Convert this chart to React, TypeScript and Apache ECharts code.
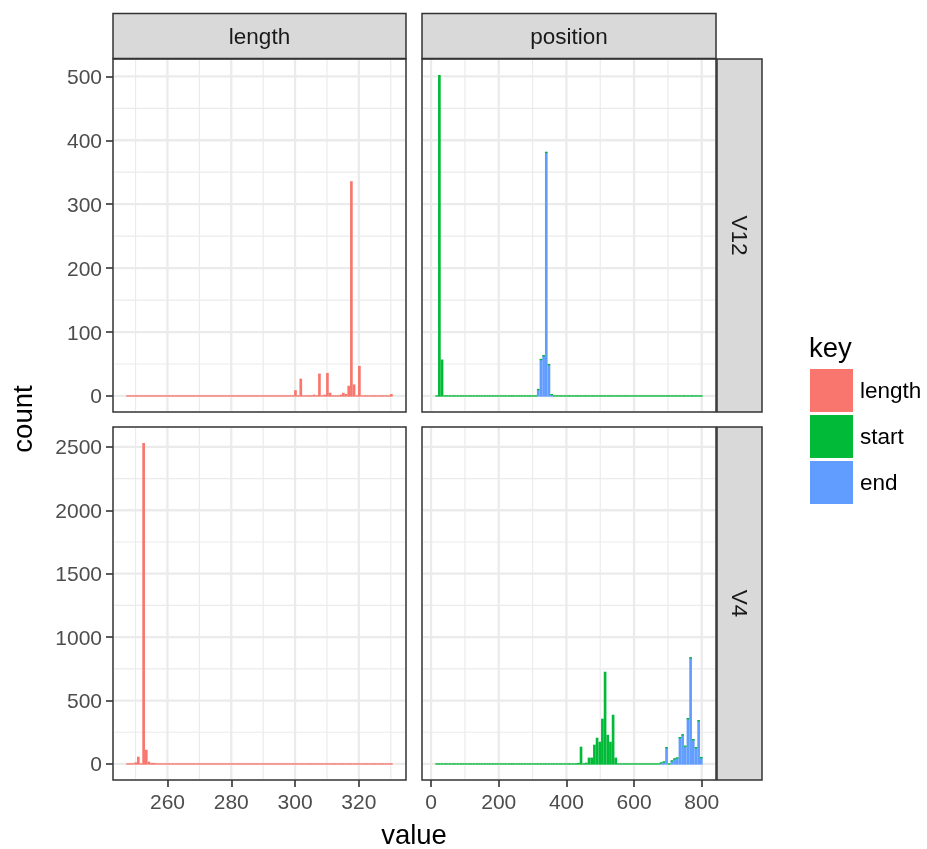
import React, { useEffect, useRef } from "react";
import * as echarts from "echarts";

const FONT = "'Liberation Sans', Arial, Helvetica, sans-serif";

// Colours of the three keys
const COLOR_LENGTH = "#F8766D";
const COLOR_START = "#00BA38";
const COLOR_END = "#619CFF";

// Histogram bin layout: 100 bins across each facet column
const BIN_COUNT = 100;
const LENGTH_BIN_START = 247.1;
const LENGTH_BIN_WIDTH = 0.835;
const POSITION_BIN_START = 12.7;
const POSITION_BIN_WIDTH = 7.9;

// Occupied bins (bin centre) and their counts, per facet and key
const lengthV12Values = [297.6, 300.1, 301.8, 306.0, 307.6, 309.3, 310.1, 311.0, 314.3, 315.2, 316.0, 316.8, 317.7, 318.5, 320.2, 330.2];
const lengthV12Counts = [1, 9, 27, 2, 35, 2, 36, 5, 2, 5, 3, 16, 336, 18, 47, 3];

const lengthV4Values = [250.0, 250.9, 252.5, 253.4, 254.2, 255.0, 255.9];
const lengthV4Counts = [12, 57, 2530, 112, 18, 8, 8];

const startV12Values = [24.6, 32.5];
const startV12Counts = [502, 57];

const endV12Values = [316.9, 324.8, 332.7, 340.6, 348.5, 356.4];
const endV12Counts = [10, 57, 63, 381, 49, 2];

const startV4Values = [435.4, 443.3, 459.1, 467.0, 474.9, 482.8, 490.7, 498.6, 506.5, 514.4, 522.3, 530.2, 538.1, 546.0];
const startV4Counts = [8, 136, 10, 50, 50, 152, 207, 175, 357, 727, 230, 175, 388, 50];

const endV4Values = [680.3, 688.2, 696.1, 711.9, 719.8, 727.7, 735.6, 743.5, 751.4, 759.3, 767.2, 775.1, 783.0, 790.9, 798.8];
const endV4Counts = [8, 16, 128, 24, 40, 47, 207, 230, 140, 357, 837, 191, 128, 341, 50];

// Axis breaks
const lengthTicks = [260, 280, 300, 320];
const lengthMinor = [250, 270, 290, 310, 330];
const positionTicks = [0, 200, 400, 600, 800];
const positionMinor = [100, 300, 500, 700];
const v12Ticks = [0, 100, 200, 300, 400, 500];
const v12Minor = [50, 150, 250, 350, 450];
const v4Ticks = [0, 500, 1000, 1500, 2000, 2500];
const v4Minor = [250, 750, 1250, 1750, 2250];

// Panel layout in pixels
const COL_LEFT = [113, 422];
const COL_WIDTH = [293, 294];
const ROW_TOP = [59, 427];
const ROW_HEIGHT = 353;
const STRIP = 45;

function binCounts(values: number[], counts: number[], start: number, width: number): number[] {
  const out = new Array(BIN_COUNT).fill(0);
  values.forEach((v, i) => {
    const k = Math.floor((v - start) / width);
    if (k >= 0 && k < BIN_COUNT) out[k] += counts[i];
  });
  return out;
}

// 5% expansion on both sides of the data span
function expand(lo: number, hi: number): [number, number] {
  const d = (hi - lo) * 0.05;
  return [lo - d, hi + d];
}

const lengthRange = expand(LENGTH_BIN_START, LENGTH_BIN_START + BIN_COUNT * LENGTH_BIN_WIDTH);
const positionRange = expand(POSITION_BIN_START, POSITION_BIN_START + BIN_COUNT * POSITION_BIN_WIDTH);

const lenV12 = binCounts(lengthV12Values, lengthV12Counts, LENGTH_BIN_START, LENGTH_BIN_WIDTH);
const lenV4 = binCounts(lengthV4Values, lengthV4Counts, LENGTH_BIN_START, LENGTH_BIN_WIDTH);
const stV12 = binCounts(startV12Values, startV12Counts, POSITION_BIN_START, POSITION_BIN_WIDTH);
const enV12 = binCounts(endV12Values, endV12Counts, POSITION_BIN_START, POSITION_BIN_WIDTH);
const stV4 = binCounts(startV4Values, startV4Counts, POSITION_BIN_START, POSITION_BIN_WIDTH);
const enV4 = binCounts(endV4Values, endV4Counts, POSITION_BIN_START, POSITION_BIN_WIDTH);

const v12Range = expand(0, Math.max(...lenV12, ...stV12.map((s, i) => s + enV12[i])));
const v4Range = expand(0, Math.max(...lenV4, ...stV4.map((s, i) => s + enV4[i])));

// [binLeft, binRight, base, top] rows; `below` stacks the bars on another key
function histRows(counts: number[], start: number, width: number, below?: number[]) {
  return counts.map((c, k) => {
    const base = below ? below[k] : 0;
    return [start + k * width, start + (k + 1) * width, base, base + c];
  });
}

// Each bin is a filled rect; empty bins still leave a thin sliver on the baseline
// unless `skipEmpty` is set (used for the lower layer of a stack).
const HALF_SLIVER = 0.7;
const rectItem = (color: string, skipEmpty: boolean) => (params: any, api: any) => {
  const base = api.value(2);
  const top = api.value(3);
  if (skipEmpty && top === base) return null;
  const p0 = api.coord([api.value(0), base]);
  const p1 = api.coord([api.value(1), top]);
  const yBottom = p0[1] + HALF_SLIVER;
  const yTop = Math.min(p1[1], p0[1] - HALF_SLIVER);
  return {
    type: "rect",
    shape: { x: p0[0], y: yTop, width: p1[0] - p0[0], height: yBottom - yTop },
    style: { fill: color, stroke: "none", lineWidth: 0 },
  };
};

function histSeries(name: string, color: string, gridIndex: number, rows: number[][], skipEmpty = false) {
  return {
    type: "custom",
    name,
    xAxisIndex: gridIndex,
    yAxisIndex: gridIndex,
    itemStyle: { color },
    encode: { x: [0, 1], y: [2, 3] },
    renderItem: rectItem(color, skipEmpty),
    data: rows,
    z: 3,
    silent: true,
  };
}

// Panel grid lines: rows are [value, vertical?1:0, major?1:0]
function gridLineSeries(gridIndex: number, xr: number[], yr: number[], xMaj: number[], xMin: number[], yMaj: number[], yMin: number[]) {
  const xMid = (xr[0] + xr[1]) / 2;
  const yMid = (yr[0] + yr[1]) / 2;
  const rows: number[][] = [];
  xMin.forEach((v) => rows.push([v, 1, 0]));
  yMin.forEach((v) => rows.push([v, 0, 0]));
  xMaj.forEach((v) => rows.push([v, 1, 1]));
  yMaj.forEach((v) => rows.push([v, 0, 1]));
  return {
    type: "custom",
    xAxisIndex: gridIndex,
    yAxisIndex: gridIndex,
    silent: true,
    z: 1,
    data: rows,
    renderItem: (params: any, api: any) => {
      const cs = params.coordSys;
      const row = rows[params.dataIndex];
      const v = row[0];
      const vertical = row[1] === 1;
      const major = row[2] === 1;
      const style = { stroke: "#EBEBEB", lineWidth: major ? 2.3 : 1.2 };
      if (vertical) {
        const p = api.coord([v, yMid]);
        return { type: "line", shape: { x1: p[0], y1: cs.y + 1, x2: p[0], y2: cs.y + cs.height - 1 }, style };
      }
      const p = api.coord([xMid, v]);
      return { type: "line", shape: { x1: cs.x + 1, y1: p[1], x2: cs.x + cs.width - 1, y2: p[1] }, style };
    },
  };
}

const tickStyle = { color: "#333333", width: 1.6 };
const labelStyle = { color: "#4D4D4D", fontSize: 21, fontFamily: FONT };

function axisFor(gridIndex: number, range: number[], ticks: number[], showLabels: boolean) {
  return {
    type: "value",
    gridIndex,
    min: range[0],
    max: range[1],
    axisLine: { show: false, onZero: false },
    splitLine: { show: false },
    axisTick: { show: showLabels, customValues: ticks, length: 7, lineStyle: tickStyle },
    axisLabel: { show: showLabels, customValues: ticks, margin: 11, formatter: (v: number) => String(v), ...labelStyle },
  };
}

export default function App() {
  const ref = useRef<HTMLDivElement>(null);

  useEffect(() => {
    if (!ref.current) return;
    const chart = echarts.init(ref.current, undefined, { renderer: "svg" });

    const grids = [0, 1].flatMap((r) =>
      [0, 1].map((c) => ({
        left: COL_LEFT[c],
        top: ROW_TOP[r],
        width: COL_WIDTH[c],
        height: ROW_HEIGHT,
        show: true,
        backgroundColor: "#FFFFFF",
        borderColor: "#333333",
        borderWidth: 1.5,
        containLabel: false,
      }))
    );

    const stripRect = (x: number, y: number, w: number, h: number) => ({
      type: "rect",
      shape: { x, y, width: w, height: h },
      style: { fill: "#D9D9D9", stroke: "#333333", lineWidth: 1.5 },
      z: 10,
    });
    const label = (text: string, x: number, y: number, size: number, fill: string, rotation = 0, align = "center") => ({
      type: "text",
      x,
      y,
      rotation,
      z: 11,
      style: {
        text,
        fill,
        fontSize: size,
        fontFamily: FONT,
        align,
        verticalAlign: "middle",
        textAlign: align,
        textVerticalAlign: "middle",
      },
    });

    const option: any = {
      animation: false,
      textStyle: { fontFamily: FONT },
      grid: grids,
      xAxis: [
        axisFor(0, lengthRange, lengthTicks, false),
        axisFor(1, positionRange, positionTicks, false),
        axisFor(2, lengthRange, lengthTicks, true),
        axisFor(3, positionRange, positionTicks, true),
      ],
      yAxis: [
        axisFor(0, v12Range, v12Ticks, true),
        axisFor(1, v12Range, v12Ticks, false),
        axisFor(2, v4Range, v4Ticks, true),
        axisFor(3, v4Range, v4Ticks, false),
      ],
      legend: {
        data: ["length", "start", "end"],
        orient: "vertical",
        left: 810,
        top: 369,
        itemWidth: 43,
        itemHeight: 43,
        itemGap: 3,
        icon: "rect",
        selectedMode: false,
        padding: 0,
        textStyle: { fontSize: 22.5, color: "#000000", fontFamily: FONT, padding: [0, 0, 0, 2] },
      },
      series: [
        gridLineSeries(0, lengthRange, v12Range, lengthTicks, lengthMinor, v12Ticks, v12Minor),
        gridLineSeries(1, positionRange, v12Range, positionTicks, positionMinor, v12Ticks, v12Minor),
        gridLineSeries(2, lengthRange, v4Range, lengthTicks, lengthMinor, v4Ticks, v4Minor),
        gridLineSeries(3, positionRange, v4Range, positionTicks, positionMinor, v4Ticks, v4Minor),
        histSeries("length", COLOR_LENGTH, 0, histRows(lenV12, LENGTH_BIN_START, LENGTH_BIN_WIDTH)),
        histSeries("length", COLOR_LENGTH, 2, histRows(lenV4, LENGTH_BIN_START, LENGTH_BIN_WIDTH)),
        histSeries("end", COLOR_END, 1, histRows(enV12, POSITION_BIN_START, POSITION_BIN_WIDTH), true),
        histSeries("start", COLOR_START, 1, histRows(stV12, POSITION_BIN_START, POSITION_BIN_WIDTH, enV12)),
        histSeries("end", COLOR_END, 3, histRows(enV4, POSITION_BIN_START, POSITION_BIN_WIDTH), true),
        histSeries("start", COLOR_START, 3, histRows(stV4, POSITION_BIN_START, POSITION_BIN_WIDTH, enV4)),
      ],
      graphic: [
        stripRect(COL_LEFT[0], 13.5, COL_WIDTH[0], STRIP),
        stripRect(COL_LEFT[1], 13.5, COL_WIDTH[1], STRIP),
        stripRect(717, ROW_TOP[0], STRIP, ROW_HEIGHT),
        stripRect(717, ROW_TOP[1], STRIP, ROW_HEIGHT),
        label("length", COL_LEFT[0] + COL_WIDTH[0] / 2, 36, 22.5, "#1A1A1A"),
        label("position", COL_LEFT[1] + COL_WIDTH[1] / 2, 36, 22.5, "#1A1A1A"),
        label("V12", 739.5, ROW_TOP[0] + ROW_HEIGHT / 2, 22.5, "#1A1A1A", -Math.PI / 2),
        label("V4", 739.5, ROW_TOP[1] + ROW_HEIGHT / 2, 22.5, "#1A1A1A", -Math.PI / 2),
        label("count", 22, 419, 27.5, "#000000", Math.PI / 2),
        label("value", 414, 834, 27.5, "#000000"),
        label("key", 809, 347, 27.5, "#000000", 0, "left"),
      ],
    };

    chart.setOption(option);
    return () => chart.dispose();
  }, []);

  return <div ref={ref} style={{ position: "fixed", left: 0, top: 0, width: 927, height: 849 }} />;
}
